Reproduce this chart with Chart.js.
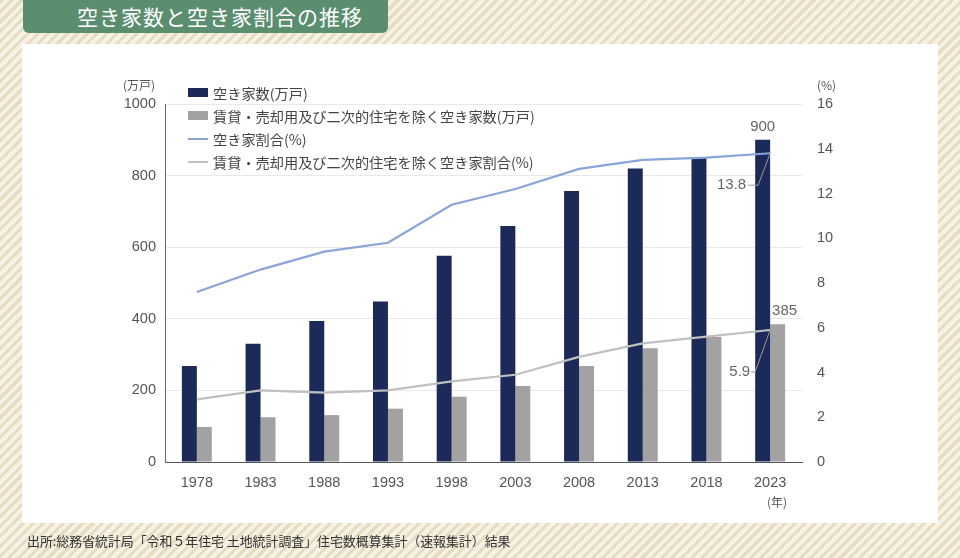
<!DOCTYPE html>
<html lang="ja">
<head>
    <meta charset="UTF-8">
    <title>空き家数と空き家割合の推移</title>
    <script src="https://cdn.jsdelivr.net/npm/chart.js"></script>
    <style>
        body {
            margin: 0;
            padding: 0;
            width: 960px;
            height: 558px;
            overflow: hidden;
            font-family: "Noto Sans CJK JP", "Liberation Sans", sans-serif;
            background: repeating-linear-gradient(135deg, #e6dcbf 0 3px, #f5f1e4 3px 7px);
            position: relative;
        }
        .panel {
            position: absolute;
            left: 22px;
            top: 44px;
            width: 916px;
            height: 479px;
            background: #fff;
        }
        .title {
            position: absolute;
            left: 23px;
            top: 0;
            width: 365px;
            height: 33px;
            background: #5b8e6f;
            border-radius: 0 0 6px 6px;
            color: #fff;
            font-size: 21px;
            line-height: 32px;
            padding-left: 54px;
            box-sizing: border-box;
            letter-spacing: 1px;
        }
        .chart-box {
            position: absolute;
            left: 0;
            top: 0;
            width: 960px;
            height: 558px;
        }
        .unit {
            position: absolute;
            font-size: 12px;
            color: #555;
        }
        .legend {
            position: absolute;
            left: 188px;
            top: 81px;
            font-size: 14.2px;
            color: #444;
        }
        .legend div {
            height: 23.2px;
            line-height: 20px;
            display: flex;
            align-items: center;
        }
        .legend span.key {
            display: inline-block;
            width: 20px;
            margin-right: 5px;
        }
        .source {
            position: absolute;
            left: 27px;
            top: 531px;
            font-size: 12.9px;
            color: #333;
        }
    </style>
</head>
<body>
    <div class="title">空き家数と空き家割合の推移</div>
    <div class="panel"></div>
    <div class="chart-box"><canvas id="chart"></canvas></div>

    <div class="unit" style="left:123px; top:76px;">(万戸)</div>
    <div class="unit" style="left:817px; top:76px;">(%)</div>
    <div class="unit" style="left:767px; top:493px;">(年)</div>

    <div class="legend" id="legend"></div>

    <div class="source">出所:総務省統計局「令和５年住宅 土地統計調査」住宅数概算集計（速報集計）結果</div>

    <script>
        // data
        const years = ["1978", "1983", "1988", "1993", "1998", "2003", "2008", "2013", "2018", "2023"];
        const vacantHomes = [268, 330, 394, 448, 576, 659, 757, 820, 849, 900];
        const otherVacantHomes = [98, 125, 131, 149, 182, 212, 268, 318, 349, 385];
        const vacantRate = [7.6, 8.6, 9.4, 9.8, 11.5, 12.2, 13.1, 13.5, 13.6, 13.8];
        const otherVacantRate = [2.8, 3.2, 3.1, 3.2, 3.6, 3.9, 4.7, 5.3, 5.6, 5.9];

        const seriesNames = [
            "空き家数(万戸)",
            "賃貸・売却用及び二次的住宅を除く空き家数(万戸)",
            "空き家割合(%)",
            "賃貸・売却用及び二次的住宅を除く空き家割合(%)"
        ];
        const colors = ["#1b2a58", "#a2a2a2", "#89a4d8", "#c0c0c0"];

        const numFont = '"Liberation Sans", Arial, sans-serif';

        // legend (html)
        const legend = document.getElementById("legend");
        seriesNames.forEach((name, i) => {
            const row = document.createElement("div");
            const key = document.createElement("span");
            key.className = "key";
            key.style.height = i < 2 ? "9px" : "2px";
            key.style.background = colors[i];
            row.appendChild(key);
            row.appendChild(document.createTextNode(name));
            legend.appendChild(row);
        });

        // value labels on the last year
        const lastLabels = {
            id: "lastLabels",
            afterDatasetsDraw(chart) {
                const ctx = chart.ctx;
                const last = years.length - 1;
                ctx.save();
                ctx.font = "15px " + numFont;
                ctx.fillStyle = "#666";
                ctx.textBaseline = "middle";

                // bar values
                const b0 = chart.getDatasetMeta(0).data[last];
                const b1 = chart.getDatasetMeta(1).data[last];
                ctx.textAlign = "center";
                ctx.fillText(String(vacantHomes[last]), b0.x, b0.y - 13);
                ctx.fillText(String(otherVacantHomes[last]), b1.x + 7, b1.y - 13);

                // rate values with leader lines
                ctx.strokeStyle = "#999";
                ctx.lineWidth = 1;
                const p2 = chart.getDatasetMeta(2).data[last];
                const p3 = chart.getDatasetMeta(3).data[last];

                ctx.textAlign = "right";
                ctx.fillText(vacantRate[last].toFixed(1), p2.x - 24, p2.y + 32);
                ctx.beginPath();
                ctx.moveTo(p2.x - 22, p2.y + 32);
                ctx.lineTo(p2.x - 12, p2.y + 32);
                ctx.lineTo(p2.x, p2.y);
                ctx.stroke();

                ctx.fillText(otherVacantRate[last].toFixed(1), p3.x - 20, p3.y + 42);
                ctx.beginPath();
                ctx.moveTo(p3.x - 19, p3.y + 42);
                ctx.lineTo(p3.x - 15, p3.y + 42);
                ctx.lineTo(p3.x, p3.y);
                ctx.stroke();
                ctx.restore();
            }
        };

        new Chart(document.getElementById("chart"), {
            type: "bar",
            data: {
                labels: years,
                datasets: [
                    {
                        label: seriesNames[0],
                        data: vacantHomes,
                        backgroundColor: colors[0],
                        yAxisID: "y",
                        order: 2,
                        barPercentage: 1,
                        categoryPercentage: 0.47
                    },
                    {
                        label: seriesNames[1],
                        data: otherVacantHomes,
                        backgroundColor: colors[1],
                        yAxisID: "y",
                        order: 2,
                        barPercentage: 1,
                        categoryPercentage: 0.47
                    },
                    {
                        type: "line",
                        label: seriesNames[2],
                        data: vacantRate,
                        borderColor: colors[2],
                        borderWidth: 2.2,
                        pointRadius: 0,
                        tension: 0,
                        yAxisID: "y1",
                        order: 0
                    },
                    {
                        type: "line",
                        label: seriesNames[3],
                        data: otherVacantRate,
                        borderColor: colors[3],
                        borderWidth: 2.2,
                        pointRadius: 0,
                        tension: 0,
                        yAxisID: "y1",
                        order: 0
                    }
                ]
            },
            options: {
                responsive: true,
                maintainAspectRatio: false,
                animation: false,
                layout: {
                    padding: { top: 104, left: 0, right: 0, bottom: 0 }
                },
                plugins: {
                    legend: { display: false },
                    tooltip: { enabled: false }
                },
                scales: {
                    x: {
                        grid: { display: false, drawTicks: false },
                        border: { display: true, color: "#555", width: 1 },
                        ticks: {
                            color: "#555",
                            font: { size: 14.5, family: numFont },
                            padding: 12
                        },
                        afterFit(scale) { scale.height = 96; }
                    },
                    y: {
                        position: "left",
                        min: 0,
                        max: 1000,
                        grid: { color: "#e9e9e9", drawTicks: false },
                        border: { display: true, color: "#666", width: 1 },
                        ticks: {
                            stepSize: 200,
                            color: "#555",
                            font: { size: 14.5, family: numFont },
                            padding: 9,
                            callback: (v) => String(v)
                        },
                        afterFit(scale) { scale.width = 165; }
                    },
                    y1: {
                        position: "right",
                        min: 0,
                        max: 16,
                        grid: { display: false, drawTicks: false },
                        border: { display: false },
                        ticks: {
                            stepSize: 2,
                            color: "#555",
                            font: { size: 14.5, family: numFont },
                            padding: 15
                        },
                        afterFit(scale) { scale.width = 158; }
                    }
                }
            },
            plugins: [lastLabels]
        });
    </script>
</body>
</html>
